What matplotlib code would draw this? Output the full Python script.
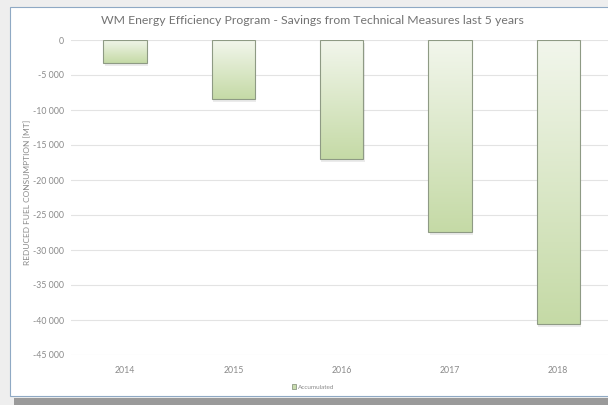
import matplotlib
matplotlib.use("Agg")
import matplotlib.pyplot as plt
import numpy as np
from matplotlib.patches import Rectangle
from matplotlib.colors import LinearSegmentedColormap
from matplotlib.ticker import FuncFormatter

years = ["2014", "2015", "2016", "2017", "2018"]
accumulated = [-3300, -8400, -17000, -27400, -40600]
yticks = list(range(0, -45001, -5000))
title = "WM Energy Efficiency Program - Savings from Technical Measures last 5 years"
ylabel = "REDUCED FUEL CONSUMPTION [MT]"
legend_label = "Accumulated"

W, H = 608, 405
fig = plt.figure(figsize=(W / 100, H / 100), dpi=100)
fig.patch.set_facecolor("#eeeeee")

def fx(px):
    return px / W

def fy(py):
    return 1 - py / H

# frame (white card)
fig.patches.append(Rectangle((fx(10), fy(396)), fx(640) - fx(10), fy(7) - fy(396),
                             transform=fig.transFigure, facecolor="white",
                             edgecolor="#8fa9c4", linewidth=0.8, zorder=-5))
# bottom shadow
fig.patches.append(Rectangle((fx(14), 0), 1, fy(398), transform=fig.transFigure,
                             facecolor="#9a9a9a", edgecolor="none", zorder=-5))

font = "Lato"
ax = fig.add_axes([fx(71), fy(355), fx(608) - fx(71), fy(40) - fy(355)])
ax.set_zorder(2)
ax.set_facecolor("none")
x = np.arange(len(years))

cmap = LinearSegmentedColormap.from_list("g", ["#c5daa6", "#f2f6ec"])
bw = 0.40
bars = ax.bar(x, accumulated, width=bw, color="#d8e7c4", edgecolor="#8e9a84",
              linewidth=0.8, zorder=3, label=legend_label)
for b, v in zip(bars, accumulated):
    x0 = b.get_x()
    ax.add_patch(Rectangle((x0 + 0.012, v - 450), bw, -v, facecolor="#000000",
                           alpha=0.08, edgecolor="none", zorder=2))
    grad = np.linspace(0, 1, 256).reshape(-1, 1)
    im = ax.imshow(grad, extent=[x0, x0 + bw, v, 0], origin="lower", cmap=cmap,
                   aspect="auto", zorder=2.5)
    im.set_clip_path(b)
    b.set_facecolor("none")
ax.set_xlim(-0.5, 4.46)
ax.set_ylim(-45000, 0)

ax.set_yticks(yticks)
ax.yaxis.set_major_formatter(FuncFormatter(
    lambda v, p: "0" if v == 0 else f"{int(v):,}".replace(",", " ")))
ax.set_xticks(x)
ax.set_xticklabels(years)
ax.grid(axis="y", color="#e3e3e3", linewidth=0.8, zorder=0)
ax.set_axisbelow(True)
for s in ax.spines.values():
    s.set_visible(False)
ax.tick_params(length=0, colors="#8a8a8a", labelsize=6.3)
ax.tick_params(axis="y", pad=5)
ax.tick_params(axis="x", pad=8)
for lab in ax.get_xticklabels() + ax.get_yticklabels():
    lab.set_fontfamily(font)

fig.text(fx(28), fy(192), ylabel, rotation=90, ha="center", va="center",
         fontsize=6.0, color="#8a8a8a", family=font)
fig.text(fx(312), fy(20), title, ha="center", va="center", fontsize=8.8,
         color="#737373", family=font)

leg = fig.legend(handles=[Rectangle((0, 0), 1, 1, facecolor="#c9dcae", edgecolor="#8e9a84",
                                    linewidth=0.6)],
                 labels=[legend_label], loc="center", bbox_to_anchor=(fx(313), fy(387)),
                 frameon=False, prop={"family": font, "size": 4.6},
                 handlelength=0.7, handleheight=0.7, handletextpad=0.3)
for t in leg.get_texts():
    t.set_color("#8a8a8a")

fig.savefig("out.png", dpi=100, facecolor=fig.get_facecolor())
